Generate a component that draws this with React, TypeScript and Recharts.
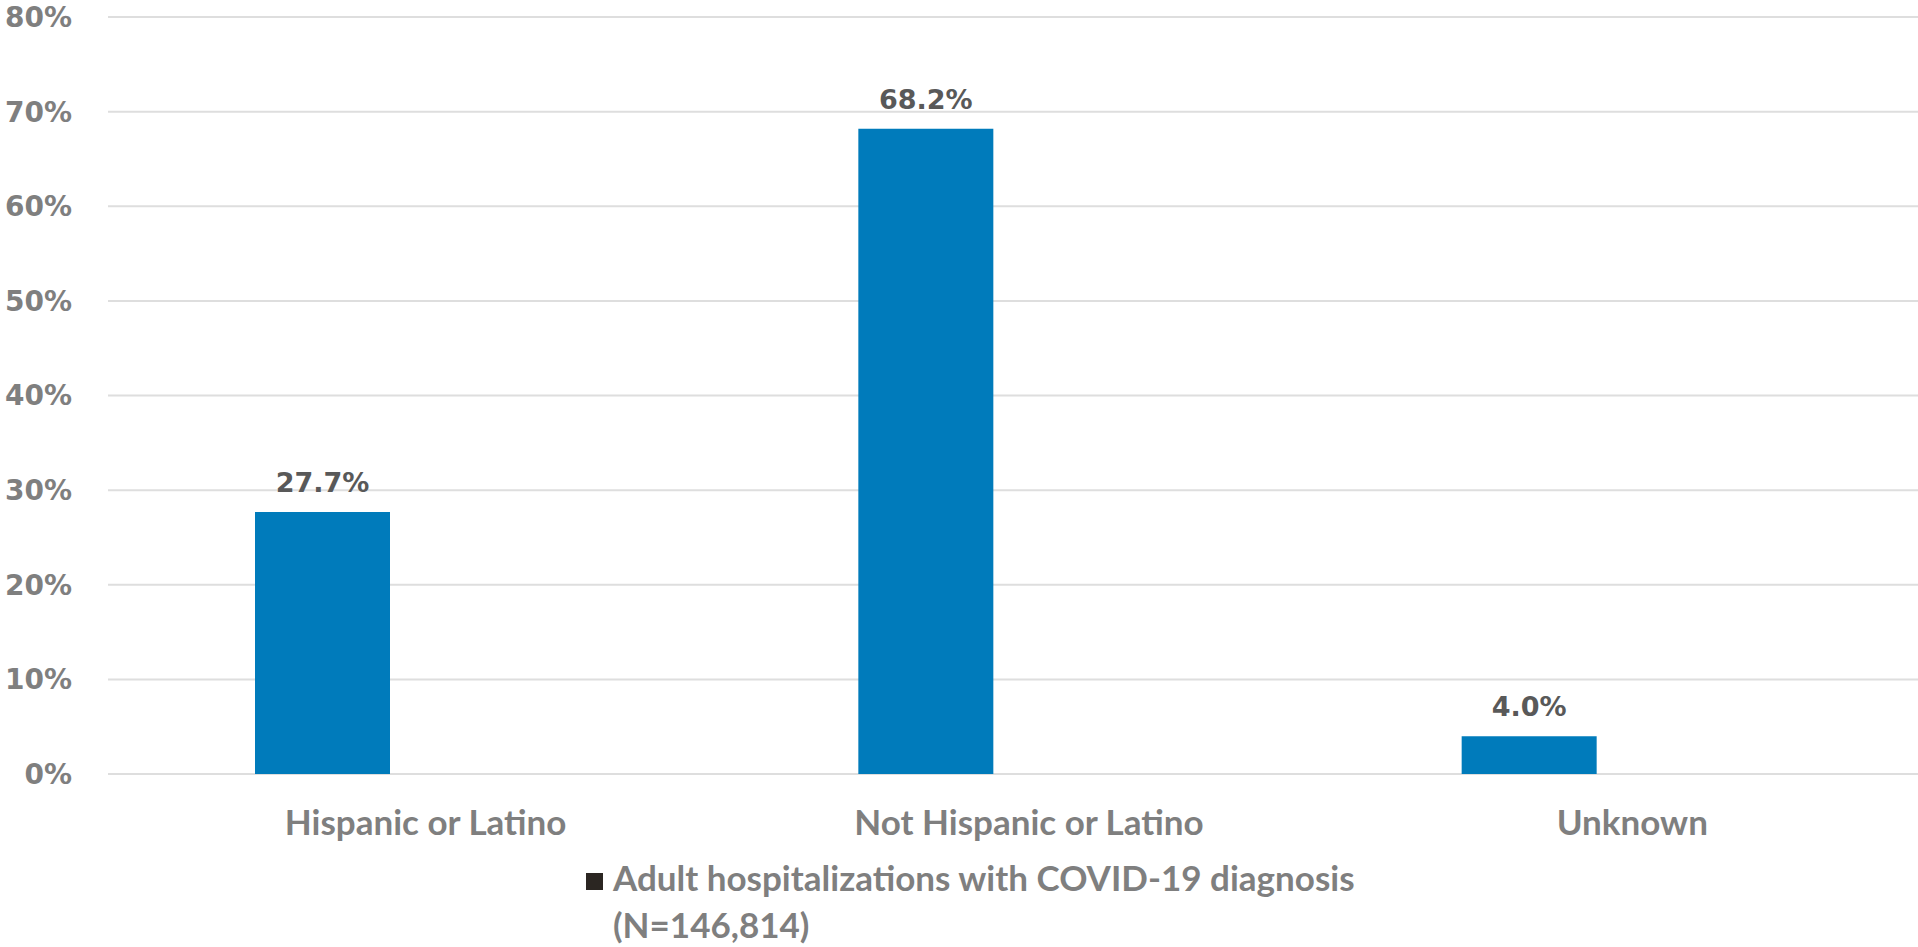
import { BarChart, Bar, XAxis, YAxis, CartesianGrid, LabelList, Legend } from 'recharts'

const categories = ['Hispanic or Latino', 'Not Hispanic or Latino', 'Unknown']
const sharePct = [27.7, 68.2, 4.0]
// empty second series, so each blue bar sits left of its category centre
const spacerPct = [null, null, null]
const yTicks = [0, 10, 20, 30, 40, 50, 60, 70, 80]
const seriesName = 'Adult hospitalizations with COVID-19 diagnosis'
const seriesCount = '(N=146,814)'

const data = categories.map((name, i) => ({
  name,
  share: sharePct[i],
  spacer: spacerPct[i],
}))

const BLUE = '#007BBB'
const AXIS_GRAY = '#7f7f7f'
const LABEL_GRAY = '#595959'
const GRID = '#dedede'

function CategoryTick({ x, y, payload }: any) {
  return (
    <text
      x={x + 16}
      y={y + 61}
      textAnchor="middle"
      fill={AXIS_GRAY}
      fontFamily="Lato"
      fontWeight={700}
      fontSize={35}
    >
      {payload.value}
    </text>
  )
}

function SeriesLegend() {
  return (
    <div
      style={{
        position: 'relative',
        paddingLeft: 27,
        fontFamily: 'Lato',
        fontWeight: 700,
        fontSize: 35,
        lineHeight: '47px',
        color: AXIS_GRAY,
        whiteSpace: 'nowrap',
      }}
    >
      <span
        style={{
          position: 'absolute',
          left: 0,
          top: 19,
          width: 17,
          height: 17,
          background: '#2b2622',
        }}
      />
      <div>{seriesName}</div>
      <div>{seriesCount}</div>
    </div>
  )
}

export default function App() {
  return (
    <>
      <style>{'body { margin: 0; }'}</style>
      <BarChart
        width={1918}
        height={947}
        data={data}
        margin={{ top: 17, right: 0, left: 0, bottom: 113 }}
        barGap={40}
      >
        <CartesianGrid vertical={false} stroke={GRID} strokeWidth={2} />
        <XAxis
          dataKey="name"
          height={60}
          axisLine={false}
          tickLine={false}
          tickSize={0}
          tickMargin={0}
          interval={0}
          tick={<CategoryTick />}
        />
        <YAxis
          width={108}
          domain={[0, 80]}
          ticks={yTicks}
          axisLine={false}
          tickLine={false}
          tickSize={0}
          tickMargin={36}
          tickFormatter={(v: number) => `${v}%`}
          tick={{ fill: AXIS_GRAY, fontFamily: 'DejaVu Sans', fontWeight: 700, fontSize: 28 }}
        />
        <Legend
          layout="horizontal"
          verticalAlign="middle"
          content={<SeriesLegend />}
          wrapperStyle={{ left: 586, top: 854, width: 900, height: 94 }}
        />
        <Bar dataKey="share" name={seriesName} fill={BLUE} barSize={135} isAnimationActive={false}>
          <LabelList
            dataKey="share"
            position="top"
            offset={20}
            formatter={(v: number) => `${v.toFixed(1)}%`}
            fill={LABEL_GRAY}
            fontFamily="DejaVu Sans"
            fontWeight={700}
            fontSize={27}
          />
        </Bar>
        <Bar dataKey="spacer" barSize={135} legendType="none" isAnimationActive={false} />
      </BarChart>
    </>
  )
}
